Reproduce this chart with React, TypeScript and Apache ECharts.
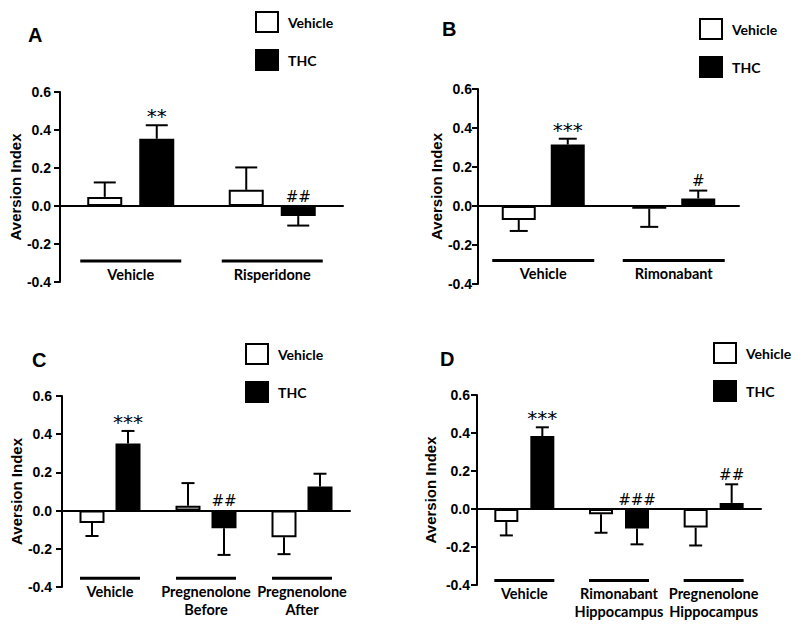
import React, { useEffect, useRef } from 'react';
import * as echarts from 'echarts';

// ---------- data ----------
const seriesNames = ['Vehicle', 'THC'];
const panelLetters = ['A', 'B', 'C', 'D'];
const yMin = -0.4;
const yMax = 0.6;
const yInterval = 0.2;

const catsA = ['Vehicle', 'Risperidone'];
const vehA = [0.048, 0.085];
const vehErrA = [0.076, 0.118];
const thcA = [0.354, -0.053];
const thcErrA = [0.071, 0.05];
const noteA = ['**', '##'];

const catsB = ['Vehicle', 'Rimonabant'];
const vehB = [-0.072, -0.014];
const vehErrB = [0.056, 0.093];
const thcB = [0.315, 0.039];
const thcErrB = [0.03, 0.04];
const noteB = ['***', '#'];

const catsC = ['Vehicle', 'Pregnenolone\nBefore', 'Pregnenolone\nAfter'];
const vehC = [-0.065, 0.026, -0.14];
const vehErrC = [0.068, 0.118, 0.088];
const thcC = [0.351, -0.093, 0.126];
const thcErrC = [0.066, 0.139, 0.067];
const noteC = ['***', '##', ''];

const catsD = ['Vehicle', 'Rimonabant\nHippocampus', 'Pregnenolone\nHippocampus'];
const vehD = [-0.069, -0.028, -0.098];
const vehErrD = [0.07, 0.097, 0.094];
const thcD = [0.384, -0.103, 0.032];
const thcErrD = [0.046, 0.083, 0.098];
const noteD = ['***', '###', '##'];

const LABEL_FONT = 'Lato';
const TICK_FONT = 'Liberation Sans';

interface Panel {
  cats: string[];
  veh: number[];
  vehErr: number[];
  thc: number[];
  thcErr: number[];
  notes: string[];
  grid: { left: number; top: number; width: number; height: number };
  barWidth: number;
  gap: number;
  cap: number;
  letterPos: [number, number];
  legendPos: [number, number];
  labelMargin: number;
  nameGap: number;
  underlineY: number;
  underlineW: number;
}

const panels: Panel[] = [
  {
    cats: catsA, veh: vehA, vehErr: vehErrA, thc: thcA, thcErr: thcErrA, notes: noteA,
    grid: { left: 60, top: 92, width: 283, height: 190 },
    barWidth: 35, gap: 17, cap: 22, letterPos: [28, 25], legendPos: [255, 11],
    labelMargin: 9, nameGap: 35, underlineY: -0.29, underlineW: 101,
  },
  {
    cats: catsB, veh: vehB, vehErr: vehErrB, thc: thcB, thcErr: thcErrB, notes: noteB,
    grid: { left: 478, top: 89, width: 261, height: 195 },
    barWidth: 34, gap: 15, cap: 18, letterPos: [442, 19], legendPos: [699, 18],
    labelMargin: 6, nameGap: 26, underlineY: -0.28, underlineW: 102,
  },
  {
    cats: catsC, veh: vehC, vehErr: vehErrC, thc: thcC, thcErr: thcErrC, notes: noteC,
    grid: { left: 62, top: 396, width: 288, height: 191 },
    barWidth: 25, gap: 11, cap: 13, letterPos: [32, 350], legendPos: [245, 343],
    labelMargin: 10, nameGap: 38, underlineY: -0.354, underlineW: 60,
  },
  {
    cats: catsD, veh: vehD, vehErr: vehErrD, thc: thcD, thcErr: thcErrD, notes: noteD,
    grid: { left: 477, top: 395, width: 284, height: 190 },
    barWidth: 24, gap: 12, cap: 13, letterPos: [440, 349], legendPos: [713, 342],
    labelMargin: 7, nameGap: 39, underlineY: -0.376, underlineW: 60,
  },
];

function buildOption() {
  const grid: any[] = [];
  const xAxis: any[] = [];
  const yAxis: any[] = [];
  const series: any[] = [];
  const legend: any[] = [];
  const title: any[] = [];

  panels.forEach((p, i) => {
    grid.push({ ...p.grid, containLabel: false });
    xAxis.push({
      type: 'category',
      gridIndex: i,
      data: p.cats,
      axisLine: { onZero: true, lineStyle: { color: '#000', width: 2 } },
      axisTick: { show: false },
      axisLabel: { show: false },
      splitLine: { show: false },
    });
    yAxis.push({
      type: 'value',
      gridIndex: i,
      min: yMin,
      max: yMax,
      interval: yInterval,
      name: 'Aversion Index',
      nameLocation: 'middle',
      nameGap: p.nameGap,
      nameTextStyle: { fontFamily: TICK_FONT, fontWeight: 'bold', fontSize: 15, color: '#000' },
      axisLine: { show: true, onZero: false, lineStyle: { color: '#000', width: 2 } },
      axisTick: { show: true, length: 6, lineStyle: { color: '#000', width: 2 } },
      axisLabel: {
        margin: p.labelMargin,
        fontFamily: TICK_FONT,
        fontWeight: 'bold',
        fontSize: 14,
        color: '#000',
        formatter: (v: number) => (Math.abs(v) < 1e-9 ? '0.0' : v.toFixed(1)),
      },
      splitLine: { show: false },
    });
    title.push({
      text: panelLetters[i],
      left: p.letterPos[0],
      top: p.letterPos[1],
      padding: 0,
      textStyle: { fontFamily: TICK_FONT, fontWeight: 'bold', fontSize: 20, color: '#000' },
    });
    legend.push({
      data: seriesNames,
      orient: 'vertical',
      left: p.legendPos[0],
      top: p.legendPos[1],
      padding: 0,
      itemWidth: 22,
      itemHeight: 20,
      itemGap: 16,
      icon: 'rect',
      selectedMode: false,
      textStyle: { fontFamily: LABEL_FONT, fontWeight: 'bold', fontSize: 14, color: '#000', padding: [0, 0, 0, 5] },
    });

    const barGap = ((p.gap / p.barWidth) * 100).toFixed(1) + '%';
    series.push({
      name: seriesNames[0],
      type: 'bar',
      xAxisIndex: i,
      yAxisIndex: i,
      data: p.veh,
      barWidth: p.barWidth,
      barGap,
      itemStyle: { color: '#fff', borderColor: '#000', borderWidth: 2 },
      z: 2,
    });
    series.push({
      name: seriesNames[1],
      type: 'bar',
      xAxisIndex: i,
      yAxisIndex: i,
      data: p.thc,
      barWidth: p.barWidth,
      barGap,
      itemStyle: { color: '#000', borderColor: '#000', borderWidth: 2 },
      z: 2,
    });

    const offset = (p.barWidth + p.gap) / 2;
    const makeErr = (vals: number[], errs: number[], side: number, notes: string[] | null) => ({
      type: 'custom',
      xAxisIndex: i,
      yAxisIndex: i,
      silent: true,
      z: 3,
      data: vals.map((v, k) => [k, v, errs[k]]),
      renderItem: (params: any, api: any) => {
        const k = api.value(0);
        const v = api.value(1);
        const e = api.value(2);
        const end = v >= 0 ? v + e : v - e;
        const p0 = api.coord([k, v]);
        const p1 = api.coord([k, end]);
        const x = p0[0] + side * offset;
        const children: any[] = [
          { type: 'line', shape: { x1: x, y1: p0[1], x2: x, y2: p1[1] }, style: { stroke: '#000', lineWidth: 2 } },
          { type: 'line', shape: { x1: x - p.cap / 2, y1: p1[1], x2: x + p.cap / 2, y2: p1[1] }, style: { stroke: '#000', lineWidth: 2 } },
        ];
        const note = notes ? notes[params.dataIndex] : '';
        if (note) {
          const pn = api.coord([k, Math.max(0, end)]);
          const isStar = note.indexOf('*') >= 0;
          children.push({
            type: 'text',
            x,
            y: pn[1] + (isStar ? 1 : -2),
            style: {
              text: note,
              align: 'center',
              verticalAlign: 'bottom',
              fontFamily: 'DejaVu Sans',
              fontSize: isStar ? 20 : 15,
              fill: '#000000',
            },
          });
        }
        return { type: 'group', children };
      },
    });
    series.push(makeErr(p.veh, p.vehErr, -1, null));
    series.push(makeErr(p.thc, p.thcErr, 1, p.notes));

    series.push({
      type: 'custom',
      xAxisIndex: i,
      yAxisIndex: i,
      silent: true,
      z: 3,
      data: p.cats.map((_, k) => [k, p.underlineY]),
      renderItem: (params: any, api: any) => {
        const pt = api.coord([api.value(0), api.value(1)]);
        const w = p.underlineW;
        return {
          type: 'group',
          children: [
            { type: 'line', shape: { x1: pt[0] - w / 2, y1: pt[1], x2: pt[0] + w / 2, y2: pt[1] }, style: { stroke: '#000', lineWidth: 3 } },
            {
              type: 'text',
              x: pt[0],
              y: pt[1] + 4,
              style: {
                text: p.cats[params.dataIndex],
                align: 'center',
                verticalAlign: 'top',
                fontFamily: LABEL_FONT,
                fontWeight: 'bold',
                fontSize: 14.5,
                lineHeight: 18,
                fill: '#000',
              },
            },
          ],
        };
      },
    });
  });

  return {
    animation: false,
    backgroundColor: '#fff',
    title,
    legend,
    grid,
    xAxis,
    yAxis,
    series,
  };
}

export default function App() {
  const ref = useRef<HTMLDivElement>(null);
  useEffect(() => {
    if (!ref.current) return;
    const chart = echarts.init(ref.current, undefined, { renderer: 'svg' });
    chart.setOption(buildOption() as any);
    return () => chart.dispose();
  }, []);
  return (
    <div
      ref={ref}
      style={{ position: 'fixed', left: 0, top: 0, width: 800, height: 629, background: '#fff' }}
    />
  );
}
